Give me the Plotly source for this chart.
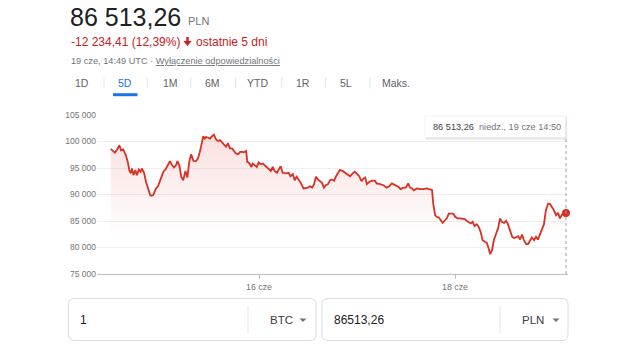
import plotly.graph_objects as go

# ---------------- dane ----------------
# czas w godzinach od początku okresu 5D (14 cze 14:50 -> 19 cze 14:50)
godziny = [
    0.0, 0.7, 1.1, 1.7, 2.3, 2.7, 3.3, 4.0, 4.5, 4.9, 5.3, 5.6, 6.0, 6.5, 6.9,
    7.4, 7.9, 8.2, 8.8, 9.3, 9.9, 10.4, 10.8, 11.2, 11.9, 12.5, 13.2, 13.9, 14.6,
    15.2, 15.6, 16.2, 16.7, 17.2, 17.6, 18.1, 18.6, 19.1, 19.7, 20.2, 20.7, 21.2,
    21.8, 22.5, 23.0, 23.5, 24.1, 24.4, 24.8, 25.1, 25.6, 26.2, 26.7, 27.2, 27.8,
    28.3, 28.8, 29.3, 29.9, 30.4, 30.9, 31.4, 32.0, 32.5, 33.0, 33.6, 34.1, 34.6,
    35.1, 35.7, 36.0, 36.5, 37.1, 37.4, 38.0, 38.5, 39.0, 39.5, 40.1, 40.6, 41.1,
    41.6, 42.2, 42.7, 43.2, 43.8, 44.3, 44.8, 45.3, 45.9, 46.4, 46.9, 47.4, 48.0,
    48.5, 49.0, 49.6, 50.1, 50.8, 51.5, 52.0, 52.5, 53.1, 53.6, 54.1, 54.6, 55.2,
    55.7, 56.2, 56.7, 57.3, 57.8, 58.3, 58.9, 59.4, 59.9, 60.4, 61.1, 61.8, 62.4,
    63.1, 63.8, 64.3, 64.8, 65.5, 66.1, 66.6, 67.1, 67.5, 68.2, 68.9, 69.6, 70.1,
    71.0, 71.9, 72.7, 73.4, 74.1, 74.9, 75.8, 76.4, 77.1, 77.8, 78.4, 78.9, 79.4,
    79.9, 80.7, 81.5, 82.4, 83.3, 84.2, 84.7, 85.0, 85.5, 85.9, 86.5, 87.0, 87.5,
    88.0, 88.6, 89.1, 89.8, 90.3, 90.8, 91.4, 92.1, 92.8, 93.3, 93.8, 94.4, 94.9,
    95.4, 95.9, 96.5, 97.0, 97.5, 98.0, 98.6, 99.1, 99.6, 100.0, 100.5, 101.0,
    101.6, 102.1, 102.6, 103.1, 103.7, 104.2, 104.7, 105.2, 105.8, 106.3, 106.8,
    107.4, 107.9, 108.4, 108.9, 109.5, 110.0, 110.5, 111.0, 111.6, 112.1, 112.6,
    113.2, 113.7, 114.2, 114.7, 115.3, 115.8, 116.3, 116.8, 117.4, 117.9, 118.4,
    119.0, 119.5, 120.0,
]
# kurs BTC w PLN
kurs = [
    98600, 98200, 97900, 98500, 99300, 98350, 98500, 97400, 96150, 94600, 94000,
    94900, 93650, 94600, 93650, 94700, 94300, 94900, 94100, 92400, 90800, 89900,
    89750, 89900, 91100, 91600, 93000, 94300, 94900, 95850, 96300, 95500, 95100,
    95500, 96300, 95500, 93300, 92700, 94450, 93200, 96150, 97600, 96350, 96300,
    96800, 98050, 99700, 101000, 100550, 100850, 100750, 100550, 101000, 101300,
    100350, 100100, 100250, 99900, 99300, 99000, 99700, 98700, 98700, 98150, 97750,
    97600, 98050, 98050, 97950, 98200, 96150, 95950, 95200, 95850, 95500, 95200,
    96050, 95700, 95850, 95500, 95200, 94900, 94450, 95200, 94450, 94100, 94700,
    95350, 94100, 94000, 94000, 94100, 93450, 93850, 92700, 93350, 92700, 92200,
    91150, 91250, 91300, 91550, 91300, 91950, 93350, 92850, 92400, 92200, 91300,
    91750, 91950, 92700, 92850, 92600, 93450, 94100, 94600, 94450, 94100, 93850,
    93450, 94000, 94300, 94000, 93450, 92500, 93000, 93200, 91950, 92400, 92600,
    92600, 92100, 91950, 91750, 91300, 91550, 92100, 91750, 91450, 91000, 91300,
    91300, 92100, 91300, 91150, 90800, 91150, 91000, 91000, 91150, 90950, 90800,
    88300, 86100, 85800, 85650, 85150, 84650, 85050, 85500, 86400, 86400, 86400,
    85800, 85500, 85500, 85350, 85350, 85050, 84850, 84550, 84850, 84050, 84400,
    83900, 82950, 81400, 81100, 80900, 79850, 78750, 79500, 81400, 82650, 83600,
    85500, 84850, 84650, 85050, 84400, 83300, 82050, 81750, 81900, 82150, 81500,
    82450, 81400, 80650, 80650, 81250, 81900, 81400, 82050, 81500, 82500, 83600,
    84400, 87050, 88300, 88200, 87700, 87050, 86100, 86550, 85500, 86300, 86450,
    86513.26,
]
etykiety_x = ["16 cze", "18 cze"]
pozycje_x = [39.1, 90.75]
wartosci_y = [75000, 80000, 85000, 90000, 95000, 100000, 105000]
zakresy = ["1D", "5D", "1M", "6M", "YTD", "1R", "5L", "Maks."]
wybrany_zakres = "5D"
zmiana = -12234.41
zmiana_proc = 12.39
waluta = "PLN"
ilosc_btc = "1"
data_kursu = "19 cze, 14:49 UTC"
data_punktu = "niedz., 19 cze 14:50"

# ---------------- wygląd ----------------
FONT = "Liberation Sans, Arial, sans-serif"
CZERWONY = "#d93025"
CZERWONY_TXT = "#c5221f"
SZARY = "#70757a"
CIEMNY = "#202124"
NIEBIESKI = "#1a73e8"

W, H = 639, 345
ML, MR, MT, MB = 97, 71, 115, 71
PW, PH = W - ML - MR, H - MT - MB


def fx(px):
    """piksel poziomy -> współrzędna paper"""
    return (px - ML) / PW


def fy(py):
    """piksel pionowy -> współrzędna paper"""
    return (H - MB - py) / PH


def liczba(v, miejsca=2):
    s = f"{abs(v):,.{miejsca}f}".replace(",", " ").replace(".", ",")
    return ("-" if v < 0 else "") + s


def zaokraglony_prostokat(x0, y0, x1, y1, r):
    rx, ry = r / PW, r / PH
    a, b, c, d = fx(x0), fy(y0), fx(x1), fy(y1)
    return (f"M {a + rx} {b} L {c - rx} {b} Q {c} {b} {c} {b - ry} "
            f"L {c} {d + ry} Q {c} {d} {c - rx} {d} L {a + rx} {d} "
            f"Q {a} {d} {a} {d + ry} L {a} {b - ry} Q {a} {b} {a + rx} {b} Z")


def tekst(px, py, t, size, color, anchor="left", **kw):
    return dict(x=fx(px), y=fy(py), xref="paper", yref="paper", text=t,
                showarrow=False, xanchor=anchor, yanchor="middle",
                font=dict(family=FONT, size=size, color=color), **kw)


fig = go.Figure()

fig.add_trace(go.Scatter(
    x=godziny, y=kurs, mode="lines",
    line=dict(color=CZERWONY, width=1.8),
    fill="tozeroy",
    fillgradient=dict(type="vertical", start=82000, stop=101500,
                      colorscale=[[0, "rgba(217,48,37,0)"],
                                  [1, "rgba(217,48,37,0.15)"]]),
    hoverinfo="skip", showlegend=False,
))
fig.add_trace(go.Scatter(
    x=[godziny[-1]], y=[kurs[-1]], mode="markers",
    marker=dict(color=CZERWONY, size=8), cliponaxis=False,
    hoverinfo="skip", showlegend=False,
))

shapes = []
annotations = []

# pionowa linia kursora i dymek z wartością
shapes.append(dict(type="line", xref="x", yref="paper", x0=godziny[-1], x1=godziny[-1],
                   y0=0, y1=fy(138), line=dict(color="#9aa0a6", width=1, dash="dot")))
shapes.append(dict(type="rect", xref="paper", yref="paper", x0=fx(426), x1=fx(567),
                   y0=fy(139.5), y1=fy(117), fillcolor="rgba(0,0,0,0.10)",
                   line=dict(width=0), layer="above"))
shapes.append(dict(type="rect", xref="paper", yref="paper", x0=fx(425), x1=fx(565.5),
                   y0=fy(137.5), y1=fy(116), fillcolor="white",
                   line=dict(color="#e6e6e6", width=0.5), layer="above"))
annotations.append(tekst(430.5, 126.5, liczba(kurs[-1]), 9.2, "#3c4043"))
annotations.append(tekst(477, 126.5, data_punktu, 9.2, SZARY))

# nagłówek
annotations.append(tekst(68, 16.5, liczba(kurs[-1]), 25, CIEMNY))
annotations.append(tekst(186, 21, waluta, 11, SZARY))
annotations.append(tekst(68.5, 41.5, f"{liczba(zmiana)} ({liczba(zmiana_proc)}%)", 12, CZERWONY_TXT))
annotations.append(tekst(194, 41.5, "ostatnie 5 dni", 12, CZERWONY_TXT))
# strzałka spadku
shapes.append(dict(type="path", xref="paper", yref="paper", layer="above",
                   path=(f"M {fx(186.3)} {fy(37)} L {fx(188.7)} {fy(37)} L {fx(188.7)} {fy(41)} "
                         f"L {fx(191.7)} {fy(41)} L {fx(187.5)} {fy(46)} L {fx(183.3)} {fy(41)} "
                         f"L {fx(186.3)} {fy(41)} Z"),
                   fillcolor=CZERWONY_TXT, line=dict(width=0)))
annotations.append(tekst(68.5, 61.5, f"{data_kursu} · <u>Wyłączenie odpowiedzialności</u>", 9.2, SZARY))

# zakładki zakresów
srodki = [81.7, 125.3, 170, 212.8, 257.5, 303.3, 345.8, 395.5]
for nazwa, sx in zip(zakresy, srodki):
    kolor = NIEBIESKI if nazwa == wybrany_zakres else "#5f6368"
    annotations.append(tekst(sx, 83, nazwa, 10.5, kolor, anchor="center"))
for sep in [104, 147.3, 190.7, 235.7, 281.7, 325.7, 370]:
    shapes.append(dict(type="line", xref="paper", yref="paper", x0=fx(sep), x1=fx(sep),
                       y0=fy(77.5), y1=fy(88.5), line=dict(color="#e3e5e8", width=1)))
shapes.append(dict(type="line", xref="paper", yref="paper", x0=fx(113), x1=fx(137.5),
                   y0=fy(94.7), y1=fy(94.7), line=dict(color=NIEBIESKI, width=3)))

# przelicznik walut
for (x0, x1, sep, lewy, prawy, kx) in [
    (68.5, 316, 248, ilosc_btc, "BTC", 303),
    (322, 568, 500, liczba(kurs[-1]).replace(" ", ""), waluta, 556),
]:
    shapes.append(dict(type="path", xref="paper", yref="paper",
                       path=zaokraglony_prostokat(x0, 298.5, x1, 340.5, 6),
                       line=dict(color="#dadce0", width=1), fillcolor="white"))
    shapes.append(dict(type="line", xref="paper", yref="paper", x0=fx(sep), x1=fx(sep),
                       y0=fy(306), y1=fy(333), line=dict(color="#e3e5e8", width=1)))
    annotations.append(tekst(x0 + 9.5, 320, lewy, 12, CIEMNY))
    annotations.append(tekst(sep + 20, 320, prawy, 11.5, "#3c4043"))
    shapes.append(dict(type="path", xref="paper", yref="paper",
                       path=f"M {fx(kx - 3.5)} {fy(318.5)} L {fx(kx + 3.5)} {fy(318.5)} L {fx(kx)} {fy(322)} Z",
                       fillcolor=SZARY, line=dict(width=0)))

fig.update_layout(
    width=W, height=H,
    margin=dict(l=ML, r=MR, t=MT, b=MB, pad=0),
    paper_bgcolor="white", plot_bgcolor="white",
    separators=", ",
    font=dict(family=FONT, color=SZARY),
    shapes=shapes, annotations=annotations,
    showlegend=False,
    xaxis=dict(range=[-3.61, 120.53], tickvals=pozycje_x, ticktext=etykiety_x,
               showgrid=False, zeroline=False, showline=True, linecolor="#bdbdbd",
               linewidth=1, ticks="outside", ticklen=4, tickcolor="#bdbdbd",
               tickfont=dict(size=8.8, color=SZARY), fixedrange=True),
    yaxis=dict(range=[75000, 105000], tickvals=wartosci_y, tickformat=",d",
               showgrid=True, gridcolor="#efefef", zeroline=False, showline=False,
               ticks="", tickfont=dict(size=8.5, color=SZARY), fixedrange=True),
)

fig.write_html("out.html", config={"displayModeBar": False})
